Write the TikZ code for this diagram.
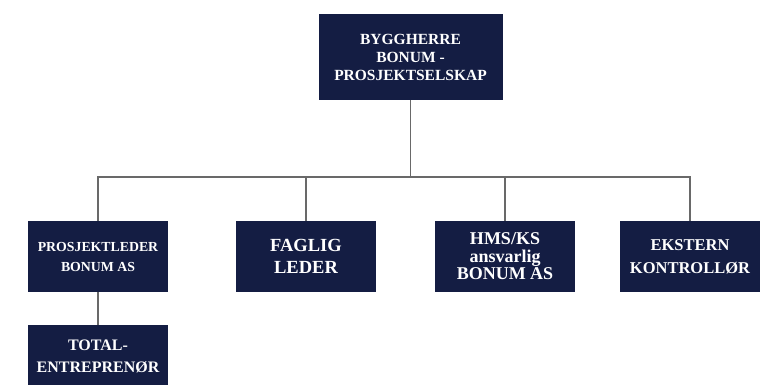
\documentclass[tikz,border=0pt]{standalone}
\usepackage{fontspec}
\setmainfont{Liberation Serif}
\definecolor{orgnavy}{RGB}{20,29,67}
\definecolor{orgline}{RGB}{105,105,105}
\usetikzlibrary{positioning}
\tikzset{
  ob/.style={fill=orgnavy, text=white, align=center,
             minimum width=140pt, minimum height=71pt, inner sep=2pt},
  obtop/.style={ob, minimum width=184pt, minimum height=86pt},
  ol/.style={orgline, line width=1.2pt}
}

\begin{document}
\begin{tikzpicture}[x=1pt, y=-1pt, node distance=32pt]
  \useasboundingbox (0,0) rectangle (769,385);
  \node[obtop, font=\bfseries\fontsize{15.5}{18}\selectfont] (top) at (410.5,57) {BYGGHERRE\\BONUM -\\PROSJEKTSELSKAP};
  \node[ob, font=\bfseries\fontsize{13.8}{20}\selectfont] (pl) at (98,256.5) {PROSJEKTLEDER\\BONUM AS};
  \node[ob, font=\bfseries\fontsize{18.5}{22}\selectfont] (fl) at (306,256.5) {FAGLIG\\LEDER};
  \node[ob, font=\bfseries\fontsize{18}{17.5}\selectfont] (hms) at (505,256.5) {HMS/KS\\ansvarlig\\BONUM AS};
  \node[ob, font=\bfseries\fontsize{16.5}{23}\selectfont] (ek) at (690,256.5) {EKSTERN\\KONTROLLØR};
  \node[ob, font=\bfseries\fontsize{16}{22}\selectfont, minimum height=62pt,
        below=of pl.south, anchor=north, yshift=-1pt] (te) {TOTAL-\\ENTREPRENØR};
  \coordinate (bar) at (410.5,177);
  \draw[ol] (top.south) -- (bar);
  \draw[ol] (pl.north) -- (pl.north |- bar) -- (ek.north |- bar) -- (ek.north);
  \draw[ol] (fl.north) -- (fl.north |- bar);
  \draw[ol] (hms.north) -- (hms.north |- bar);
  \draw[ol] (pl.south) -- (te.north);
\end{tikzpicture}
\end{document}
